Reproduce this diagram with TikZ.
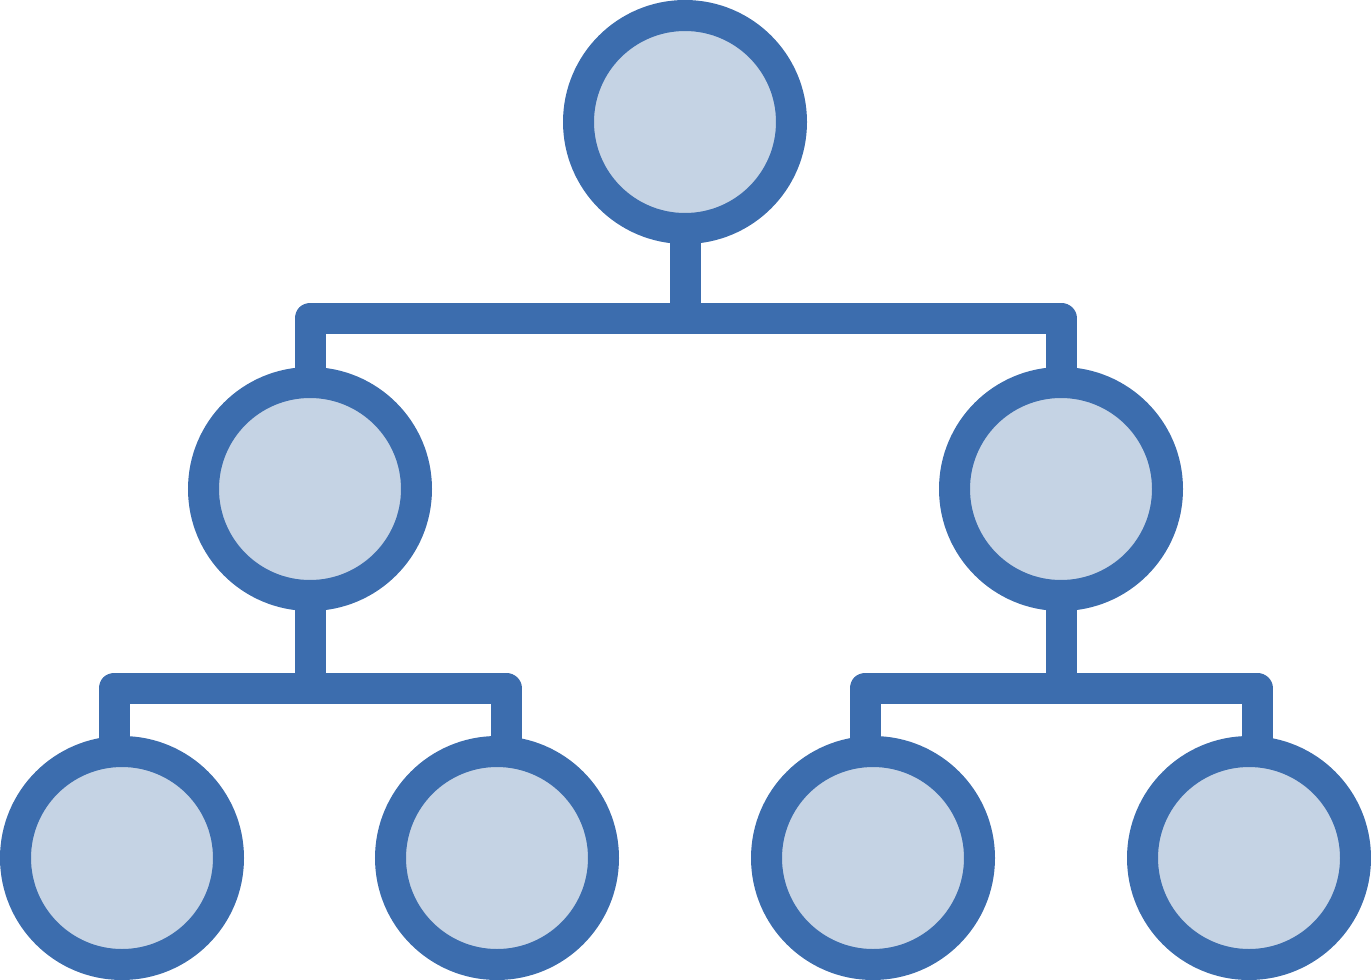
\documentclass[tikz,border=0pt]{standalone}
\usetikzlibrary{backgrounds}
\definecolor{iconblue}{HTML}{3C6DAE}
\definecolor{iconfill}{HTML}{C5D3E4}
\begin{document}
\begin{tikzpicture}[x=1pt,y=-1pt,
  bubble/.style={circle,draw=iconblue,fill=iconfill,line width=31pt,minimum size=213pt,inner sep=0pt},
  conn/.style={draw=iconblue,line width=31pt,line join=round,line cap=butt}]
\useasboundingbox (0,0) rectangle (1371,980);
\node[bubble] (top) at (685,122) {};
\node[bubble] (ml) at (310,489) {};
\node[bubble] (mr) at (1061,489) {};
\node[bubble] (b1) at (122,858) {};
\node[bubble] (b2) at (497,858) {};
\node[bubble] (b3) at (873,858) {};
\node[bubble] (b4) at (1249,858) {};
\coordinate (bar1) at (0,318);
\coordinate (bar2) at (0,688);
\coordinate (b1t) at (114,760);
\coordinate (b2t) at (506,760);
\coordinate (b3t) at (865,760);
\coordinate (b4t) at (1257,760);
\begin{scope}[on background layer]
\draw[conn] (top.center) -- (top.center |- bar1);
\draw[conn] (ml.center) -- (ml.center |- bar1) -- (mr.center |- bar1) -- (mr.center);
\draw[conn] (ml.center) -- (ml.center |- bar2);
\draw[conn] (b1t) -- (b1t |- bar2) -- (b2t |- bar2) -- (b2t);
\draw[conn] (mr.center) -- (mr.center |- bar2);
\draw[conn] (b3t) -- (b3t |- bar2) -- (b4t |- bar2) -- (b4t);
\end{scope}
\end{tikzpicture}
\end{document}
